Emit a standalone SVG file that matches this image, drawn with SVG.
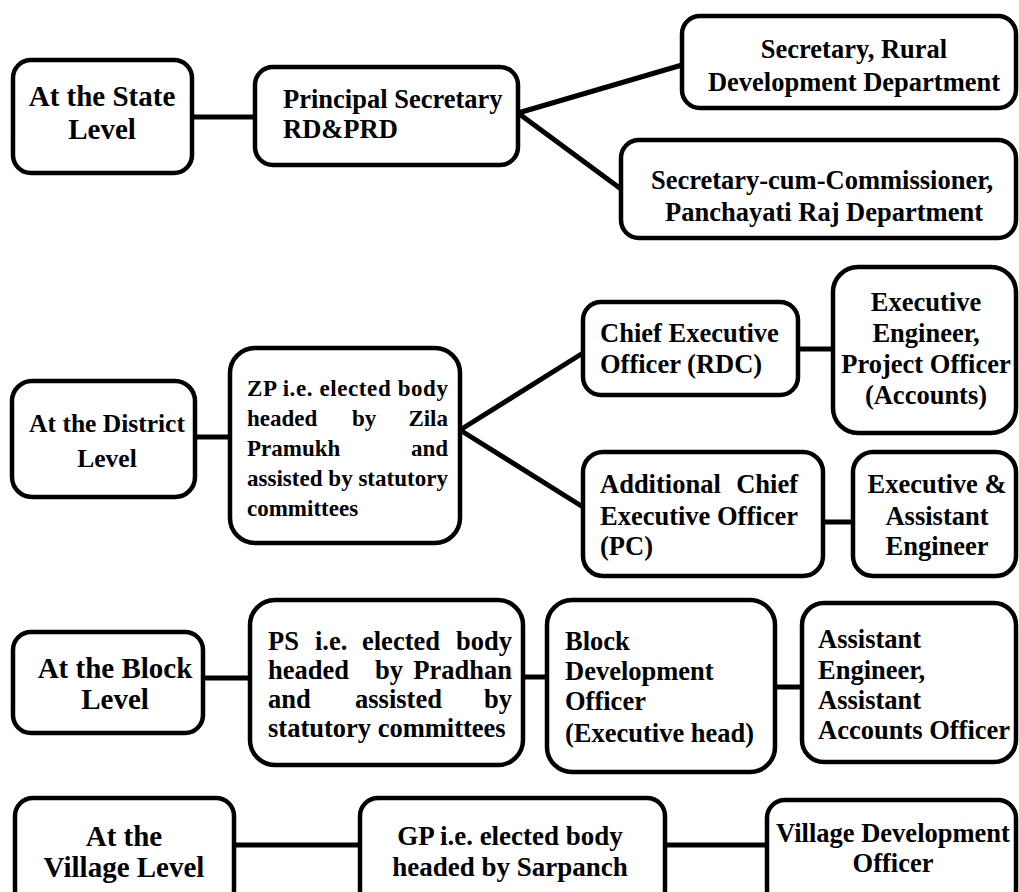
<svg xmlns="http://www.w3.org/2000/svg" width="1019" height="892" viewBox="0 0 1019 892">
<style>
.box{fill:#fff;stroke:#000;stroke-width:4.5}
.t{font-family:'Liberation Serif','Times New Roman',serif;font-weight:700;font-size:26.5px;fill:#000}
.s{font-size:23px}
.big{font-size:29px}
.c{text-anchor:middle}
.e{text-anchor:end}
#connectors line{stroke:#000;stroke-width:5;stroke-linecap:round}
</style>
<rect width="1019" height="892" fill="#fff"/>
<g id="connectors">
<line x1="192" y1="117" x2="255" y2="117"/>
<line x1="518" y1="113" x2="682" y2="65"/>
<line x1="518" y1="113" x2="621" y2="189"/>
<line x1="195" y1="437" x2="230" y2="437"/>
<line x1="460" y1="430" x2="583" y2="353"/>
<line x1="460" y1="430" x2="583" y2="507"/>
<line x1="798" y1="349" x2="833" y2="349"/>
<line x1="823" y1="522" x2="853" y2="522"/>
<line x1="203" y1="678" x2="250" y2="678"/>
<line x1="523" y1="677" x2="547" y2="677"/>
<line x1="775" y1="687" x2="802" y2="687"/>
<line x1="234" y1="845" x2="360" y2="845"/>
<line x1="665" y1="845" x2="767" y2="845"/>
</g>
<g id="state">
<rect class="box" x="13" y="60" width="179" height="113" rx="18"/>
<text class="t big c" x="102" y="106">At the State</text>
<text class="t big c" x="102" y="139">Level</text>
</g>
<g id="principal">
<rect class="box" x="255" y="67" width="263" height="98" rx="18"/>
<text class="t" x="283" y="108">Principal Secretary</text>
<text class="t" x="283" y="138">RD&amp;PRD</text>
</g>
<g id="rural">
<rect class="box" x="682" y="16" width="334" height="92" rx="18"/>
<text class="t c" x="854" y="58">Secretary, Rural</text>
<text class="t c" x="854" y="91">Development Department</text>
</g>
<g id="seccum">
<rect class="box" x="621" y="140" width="395" height="98" rx="18"/>
<text class="t c" x="822" y="189">Secretary-cum-Commissioner,</text>
<text class="t c" x="824" y="221">Panchayati Raj Department</text>
</g>
<g id="district">
<rect class="box" x="12" y="381" width="183" height="116" rx="20"/>
<text class="t c" x="107" y="432" style="font-size:25.5px">At the District</text>
<text class="t c" x="107" y="467" style="font-size:25.5px">Level</text>
</g>
<g id="zp">
<rect class="box" x="230" y="348" width="230" height="195" rx="25"/>
<text class="t s" x="247" y="396" textLength="201" lengthAdjust="spacing">ZP i.e. elected body</text>
<text class="t s" x="247" y="426">headed</text>
<text class="t s" x="352" y="426">by</text>
<text class="t s e" x="448" y="426">Zila</text>
<text class="t s" x="247" y="456">Pramukh</text>
<text class="t s e" x="448" y="456">and</text>
<text class="t s" x="247" y="486" textLength="201" lengthAdjust="spacing">assisted by statutory</text>
<text class="t s" x="247" y="516">committees</text>
</g>
<g id="ceo">
<rect class="box" x="583" y="302" width="215" height="93" rx="18"/>
<text class="t" x="600" y="342">Chief Executive</text>
<text class="t" x="600" y="373">Officer (RDC)</text>
</g>
<g id="ee">
<rect class="box" x="833" y="267" width="183" height="166" rx="25"/>
<text class="t c" x="926" y="311">Executive</text>
<text class="t c" x="926" y="342">Engineer,</text>
<text class="t c" x="926" y="373">Project Officer</text>
<text class="t c" x="926" y="404">(Accounts)</text>
</g>
<g id="aceo">
<rect class="box" x="583" y="452" width="240" height="124" rx="20"/>
<text class="t" x="600" y="493">Additional</text>
<text class="t e" x="798" y="493">Chief</text>
<text class="t" x="600" y="525">Executive Officer</text>
<text class="t" x="600" y="555">(PC)</text>
</g>
<g id="ea">
<rect class="box" x="853" y="452" width="163" height="124" rx="20"/>
<text class="t c" x="937" y="493">Executive &amp;</text>
<text class="t c" x="937" y="525">Assistant</text>
<text class="t c" x="937" y="555">Engineer</text>
</g>
<g id="block">
<rect class="box" x="13" y="632" width="190" height="101" rx="18"/>
<text class="t big c" x="115" y="678">At the Block</text>
<text class="t big c" x="115" y="709">Level</text>
</g>
<g id="ps">
<rect class="box" x="250" y="600" width="273" height="165" rx="25"/>
<text class="t" x="268" y="650">PS</text>
<text class="t" x="315" y="650">i.e.</text>
<text class="t" x="362" y="650">elected</text>
<text class="t e" x="512" y="650">body</text>
<text class="t" x="268" y="679">headed</text>
<text class="t" x="375" y="679">by</text>
<text class="t e" x="512" y="679">Pradhan</text>
<text class="t" x="268" y="708">and</text>
<text class="t" x="355" y="708">assisted</text>
<text class="t e" x="512" y="708">by</text>
<text class="t" x="268" y="737">statutory committees</text>
</g>
<g id="bdo">
<rect class="box" x="547" y="600" width="228" height="172" rx="25"/>
<text class="t" x="565" y="650">Block</text>
<text class="t" x="565" y="680">Development</text>
<text class="t" x="565" y="710">Officer</text>
<text class="t" x="565" y="742">(Executive head)</text>
</g>
<g id="ae">
<rect class="box" x="802" y="603" width="214" height="159" rx="22"/>
<text class="t" x="818" y="648">Assistant</text>
<text class="t" x="818" y="679">Engineer,</text>
<text class="t" x="818" y="709">Assistant</text>
<text class="t" x="818" y="739">Accounts Officer</text>
</g>
<g id="village">
<rect class="box" x="15" y="798" width="219" height="110" rx="18"/>
<text class="t big c" x="124" y="846">At the</text>
<text class="t big c" x="124" y="877">Village Level</text>
</g>
<g id="gp">
<rect class="box" x="360" y="798" width="305" height="110" rx="18"/>
<text class="t c" x="510" y="845" style="font-size:27px">GP i.e. elected body</text>
<text class="t c" x="510" y="876" style="font-size:27px">headed by Sarpanch</text>
</g>
<g id="vdo">
<rect class="box" x="767" y="800" width="249" height="108" rx="18"/>
<text class="t c" x="893" y="842">Village Development</text>
<text class="t c" x="893" y="872">Officer</text>
</g>
</svg>
